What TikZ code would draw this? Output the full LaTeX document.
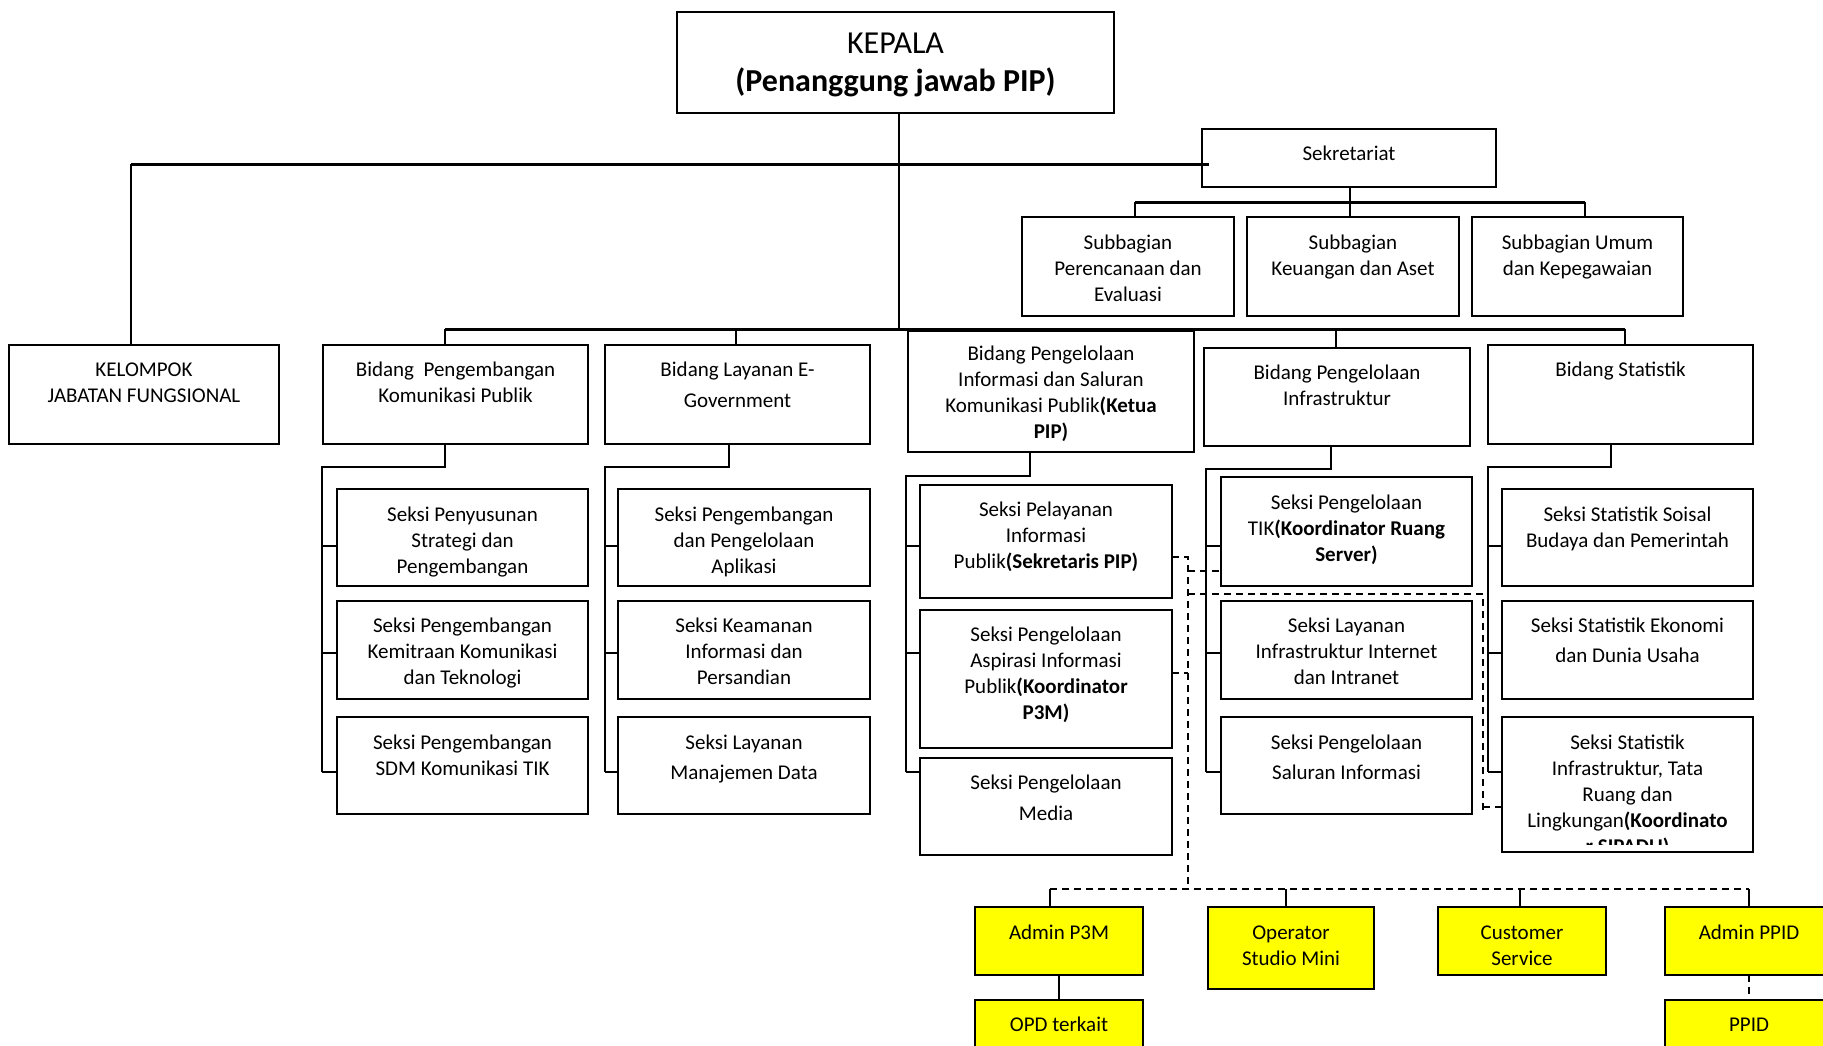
\documentclass[tikz,border=0pt]{standalone}
\usepackage{fontspec}
\setmainfont{Carlito}
\usetikzlibrary{calc}
\definecolor{ylw}{RGB}{255,255,0}
\tikzset{
 box/.style={draw=black, line width=2pt, rectangle, inner sep=0pt, outer sep=0pt, fill=white},
 ybox/.style={box, fill=ylw},
 txt/.style={inner sep=0pt, align=center, font=\fontsize{21}{26}\selectfont},
 bus/.style={line width=3pt},
 con/.style={line width=2pt},
 dsh/.style={line width=1.6pt, dash pattern=on 7pt off 5pt},
}
% #1 extra text options, #2 box style, #3 name, #4 x1, #5 y1, #6 x2, #7 y2, #8 first baseline, #9 text
\newcommand\obox[9][]{%
 \node[#2, minimum width={(#6-#4)*1pt}, minimum height={(#7-#5)*1pt}, anchor=north west] (#3) at (#4,#5) {};
 \node[txt,#1, anchor=north] (#3t) at ({(#4+#6)/2},{#8-18}) {\rule{0pt}{18pt}#9};
}
\newcommand\colcon[5]{%
 \draw[con] (#2,0 |- #1.south) -- (#2,#3) -- (#4,#3) -- (#4,772);
 \foreach \yy/\nn in {546/1,653/2,772/3} \draw[con] (#4,\yy) -- (#5\nn.west |- #4,\yy);
}
\begin{document}
\begin{tikzpicture}[x=1pt,y=-1pt]
\useasboundingbox (0,0) rectangle (1823,1045);
\clip (0,0) rectangle (1823,1045);

% top
\node[box, minimum width=437pt, minimum height=101pt, anchor=north west] (kep) at (677,12) {};
\node[inner sep=0pt, align=center, anchor=north, font=\fontsize{32}{38}\selectfont] (kept) at (895.5,27) {\rule{0pt}{26pt}KEPALA\\\textbf{(Penanggung jawab PIP)}};

\obox{box}{sek}{1202}{129}{1496}{187}{160}{Sekretariat}
\obox{box}{sub1}{1022}{217}{1234}{316}{249}{Subbagian\\Perencanaan dan\\Evaluasi}
\obox{box}{sub2}{1247}{217}{1459}{316}{249}{Subbagian\\Keuangan dan Aset}
\obox{box}{sub3}{1472}{217}{1683}{316}{249}{Subbagian Umum\\dan Kepegawaian}

% bidang row
\obox{box}{kel}{9}{345}{279}{444}{376}{KELOMPOK\\JABATAN FUNGSIONAL}
\obox{box}{bid1}{323}{345}{588}{444}{376}{Bidang~~Pengembangan\\Komunikasi Publik}
\obox[font=\fontsize{21}{31}\selectfont]{box}{bid2}{605}{345}{870}{444}{376}{Bidang Layanan E-\\Government}
\obox{box}{bid3}{908}{331}{1194}{452}{360}{Bidang Pengelolaan\\Informasi dan Saluran\\Komunikasi Publik\textbf{(Ketua}\\\textbf{PIP)}}
\obox{box}{bid4}{1204}{348}{1470}{446}{379}{Bidang Pengelolaan\\Infrastruktur}
\obox{box}{bid5}{1488}{345}{1753}{444}{376}{Bidang Statistik}

% column 1
\obox{box}{ca1}{337}{489}{588}{586}{521}{Seksi Penyusunan\\Strategi dan\\Pengembangan}
\obox{box}{ca2}{337}{601}{588}{699}{632}{Seksi Pengembangan\\Kemitraan Komunikasi\\dan Teknologi}
\obox{box}{ca3}{337}{717}{588}{814}{749}{Seksi Pengembangan\\SDM Komunikasi TIK}
% column 2
\obox{box}{cb1}{618}{489}{870}{586}{521}{Seksi Pengembangan\\dan Pengelolaan\\Aplikasi}
\obox{box}{cb2}{618}{601}{870}{699}{632}{Seksi Keamanan\\Informasi dan\\Persandian}
\obox[font=\fontsize{21}{30}\selectfont]{box}{cb3}{618}{717}{870}{814}{749}{Seksi Layanan\\Manajemen Data}
% column 3
\obox{box}{cc1}{920}{485}{1172}{598}{516}{Seksi Pelayanan\\Informasi\\Publik\textbf{(Sekretaris PIP)}}
\obox{box}{cc2}{920}{610}{1172}{748}{641}{Seksi Pengelolaan\\Aspirasi Informasi\\Publik\textbf{(Koordinator}\\\textbf{P3M)}}
\obox[font=\fontsize{21}{31}\selectfont]{box}{cc3}{920}{758}{1172}{855}{789}{Seksi Pengelolaan\\Media}
% column 4
\obox{box}{cd1}{1221}{477}{1472}{586}{509}{Seksi Pengelolaan\\TIK\textbf{(Koordinator Ruang}\\\textbf{Server)}}
\obox{box}{cd2}{1221}{601}{1472}{699}{632}{Seksi Layanan\\Infrastruktur Internet\\dan Intranet}
\obox[font=\fontsize{21}{30}\selectfont]{box}{cd3}{1221}{717}{1472}{814}{749}{Seksi Pengelolaan\\Saluran Informasi}
% column 5
\obox{box}{ce1}{1502}{489}{1753}{586}{521}{Seksi Statistik Soisal\\Budaya dan Pemerintah}
\obox[font=\fontsize{21}{30}\selectfont]{box}{ce2}{1502}{601}{1753}{699}{632}{Seksi Statistik Ekonomi\\dan Dunia Usaha}
\node[box, minimum width=251pt, minimum height=135pt, anchor=north west] (ce3) at (1502,717) {};
\begin{scope}
\clip (1502,717) rectangle (1753,844);
\node[txt, anchor=north] (ce3t) at (1627.5,731) {\rule{0pt}{18pt}Seksi Statistik\\Infrastruktur, Tata\\Ruang dan\\Lingkungan\textbf{(Koordinato}\\\textbf{r SIPADU)}};
\end{scope}

% yellow boxes
\obox{ybox}{ap3m}{975}{907}{1143}{975}{939}{Admin P3M}
\obox{ybox}{opr}{1208}{907}{1374}{989}{939}{Operator\\Studio Mini}
\obox{ybox}{cs}{1438}{907}{1606}{975}{939}{Customer\\Service}
\obox{ybox}{appid}{1665}{907}{1833}{975}{939}{Admin PPID}
\obox{ybox}{opd}{975}{1000}{1143}{1070}{1031}{OPD terkait}
\obox{ybox}{ppid}{1665}{1000}{1833}{1070}{1031}{PPID}

% main connectors
\coordinate (kl) at (131,164);
\coordinate (kd) at (899,329);
\draw[con] (kd |- kep.south) -- (kd);
\draw[bus] (kl) -- (sek.west |- kl) -- ++(7,0);
\draw[con] (kl) -- (kl |- kel.north);

\coordinate (sb) at (1350,202);
\draw[bus] (1135,202) -- (1585,202);
\draw[con] (sb |- sek.south) -- (sb |- sub2.north);
\draw[con] (1135,202) -- (1135,0 |- sub1.north);
\draw[con] (1585,202) -- (1585,0 |- sub3.north);

\coordinate (busL) at (445,329);
\coordinate (busR) at (1625,329);
\draw[bus] (busL) -- (busR);
\draw[con] (busL) -- (busL |- bid1.north);
\draw[con] (736,329) -- (736,0 |- bid2.north);
\draw[con] (1336,329) -- (1336,0 |- bid4.north);
\draw[con] (busR) -- (busR |- bid5.north);

\colcon{bid1}{445}{467}{322}{ca}
\colcon{bid2}{729}{467}{605}{cb}
\colcon{bid3}{1030}{476}{906}{cc}
\colcon{bid4}{1331}{469}{1206}{cd}
\colcon{bid5}{1611}{467}{1488}{ce}

% dashed links
\draw[dsh] (cc1.east |- 0,557) -- (1188,557) -- (1188,889);
\draw[dsh] (cc2.east |- 0,673) -- (1188,673);
\draw[dsh] (1188,571) -- (cd1.west |- 0,571);
\draw[dsh] (1188,594) -- (1483,594) -- (1483,812);
\draw[dsh] (1483,807) -- (ce3.west |- 0,807);
\draw[dsh] (1050,889) -- (1749,889);
\draw[con] (1050,889) -- (1050,0 |- ap3m.north);
\draw[con] (1286,889) -- (1286,0 |- opr.north);
\draw[con] (1520,889) -- (1520,0 |- cs.north);
\draw[con] (1749,889) -- (1749,0 |- appid.north);
\draw[con] (ap3m.south) -- (opd.north);
\draw[dsh] (appid.south) -- (ppid.north);
\end{tikzpicture}
\end{document}
